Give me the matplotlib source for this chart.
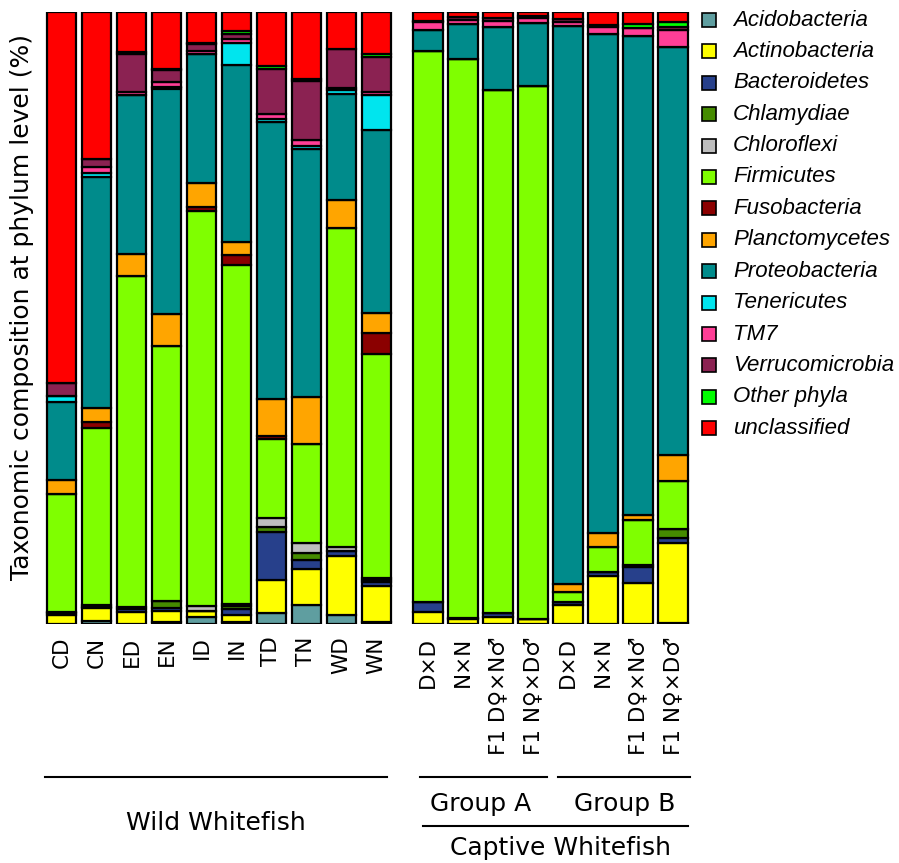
import matplotlib
matplotlib.use('Agg')
import matplotlib.pyplot as plt
import numpy as np
from matplotlib.patches import Rectangle
from matplotlib.lines import Line2D

# Samples: 10 wild populations, then 8 captive crosses (group A, group B)
wild_samples = ['CD', 'CN', 'ED', 'EN', 'ID', 'IN', 'TD', 'TN', 'WD', 'WN']
captive_samples = ['D×D', 'N×N', 'F1 D♀×N♂', 'F1 N♀×D♂',
                   'D×D', 'N×N', 'F1 D♀×N♂', 'F1 N♀×D♂']

phyla = ['Acidobacteria', 'Actinobacteria', 'Bacteroidetes', 'Chlamydiae',
         'Chloroflexi', 'Firmicutes', 'Fusobacteria', 'Planctomycetes',
         'Proteobacteria', 'Tenericutes', 'TM7', 'Verrucomicrobia',
         'Other phyla', 'unclassified']

colors = ['#5F9EA0', '#FFFF00', '#27408B', '#458B00', '#BEBEBE', '#7FFF00',
          '#8B0000', '#FFA500', '#008B8B', '#00E5EE', '#FF3E96', '#8B2252',
          '#00FF00', '#FF0000']

# relative abundance (%) per phylum, wild samples then captive samples
acidobacteria   = [0.0, 0.5, 0.0, 0.3, 1.1, 0.3, 1.8, 3.1, 1.5, 0.3,
                   0.0, 0.0, 0.0, 0.0, 0.0, 0.0, 0.0, 0.2]
actinobacteria  = [1.5, 2.1, 2.0, 1.8, 1.1, 1.1, 5.4, 5.9, 9.6, 5.9,
                   2.0, 0.8, 1.1, 0.8, 3.1, 7.8, 6.7, 13.1]
bacteroidetes   = [0.3, 0.2, 0.4, 0.5, 0.0, 1.1, 7.8, 1.5, 0.8, 0.7,
                   1.6, 0.2, 0.7, 0.0, 0.5, 0.7, 2.6, 0.8]
chlamydiae      = [0.2, 0.0, 0.3, 1.1, 0.0, 0.5, 0.8, 1.1, 0.0, 0.3,
                   0.0, 0.0, 0.0, 0.0, 0.0, 0.0, 0.3, 1.5]
chloroflexi     = [0.0, 0.3, 0.0, 0.0, 0.8, 0.3, 1.6, 1.6, 0.7, 0.3,
                   0.0, 0.0, 0.0, 0.0, 0.0, 0.0, 0.0, 0.0]
firmicutes      = [19.3, 28.9, 54.2, 41.8, 64.5, 55.4, 12.9, 16.2, 52.1, 36.6,
                   90.0, 91.3, 85.4, 87.1, 1.6, 4.1, 7.4, 7.8]
fusobacteria    = [0.0, 1.0, 0.0, 0.0, 0.7, 1.6, 0.5, 0.0, 0.0, 3.4,
                   0.0, 0.0, 0.0, 0.0, 0.0, 0.0, 0.0, 0.0]
planctomycetes  = [2.3, 2.3, 3.6, 5.1, 3.9, 2.1, 5.9, 7.7, 4.6, 3.3,
                   0.0, 0.0, 0.0, 0.0, 1.3, 2.3, 0.8, 4.2]
proteobacteria  = [12.6, 37.7, 26.0, 36.9, 21.1, 28.9, 45.3, 40.5, 17.3, 29.9,
                   3.4, 5.7, 10.3, 10.3, 91.2, 81.5, 78.3, 66.7]
tenericutes     = [1.0, 0.7, 0.0, 0.3, 0.0, 3.6, 0.5, 0.5, 0.7, 5.7,
                   0.0, 0.0, 0.0, 0.0, 0.0, 0.0, 0.0, 0.0]
tm7             = [0.0, 1.0, 0.5, 0.7, 0.5, 0.7, 0.8, 1.0, 0.3, 0.5,
                   1.3, 0.7, 1.0, 0.8, 0.7, 1.1, 1.3, 2.8]
verrucomicrobia = [2.1, 1.3, 6.2, 2.0, 1.0, 0.8, 7.4, 9.6, 6.4, 5.7,
                   0.3, 0.5, 0.5, 0.3, 0.5, 0.3, 0.0, 0.5]
other_phyla     = [0.0, 0.0, 0.3, 0.2, 0.3, 0.5, 0.5, 0.3, 0.0, 0.5,
                   0.0, 0.0, 0.0, 0.0, 0.0, 0.0, 0.6, 0.8]
unclassified    = [60.7, 24.0, 6.5, 9.3, 5.0, 3.1, 8.8, 11.0, 6.0, 6.9,
                   1.4, 0.8, 1.0, 0.7, 1.1, 2.2, 2.0, 1.6]

abund = np.array([acidobacteria, actinobacteria, bacteroidetes, chlamydiae,
                  chloroflexi, firmicutes, fusobacteria, planctomycetes,
                  proteobacteria, tenericutes, tm7, verrucomicrobia,
                  other_phyla, unclassified])

W, H = 899, 863
fig = plt.figure(figsize=(W / 100, H / 100), dpi=100)

def fx(px):
    return px / W

def fy(py):
    return 1 - py / H

ax_wild = fig.add_axes([fx(44.5), fy(624), fx(349), 612 / H])
ax_capt = fig.add_axes([fx(410.5), fy(624), fx(280), 612 / H])


def stacked(ax, data, labels):
    x = np.arange(data.shape[1])
    bottom = np.zeros(data.shape[1])
    for vals, col in zip(data, colors):
        ax.bar(x, vals, width=0.83, bottom=bottom, color=col,
               edgecolor='black', linewidth=1.6)
        bottom += vals
    ax.set_xlim(-0.5, len(x) - 0.5)
    ax.set_ylim(0, 100)
    ax.set_xticks(x)
    ax.set_xticklabels(labels, rotation=90, fontsize=15.5,
                       family='DejaVu Sans')
    ax.tick_params(axis='x', length=0, pad=9)
    ax.set_yticks([])
    for s in ax.spines.values():
        s.set_visible(False)


stacked(ax_wild, abund[:, :10], wild_samples)
stacked(ax_capt, abund[:, 10:], captive_samples)

fig.text(fx(22), fy(307), 'Taxonomic composition at phylum level (%)',
         rotation=90, ha='center', va='center', fontsize=18,
         family='DejaVu Sans')

# group brackets under the tick labels
def hline(x0, x1, y):
    fig.add_artist(Line2D([fx(x0), fx(x1)], [fy(y), fy(y)],
                          color='black', linewidth=1.5))

hline(45, 387, 777)
hline(420, 547, 777)
hline(558, 690, 777)
hline(423, 688, 826)

gfont = dict(fontsize=18, family='DejaVu Sans', ha='center', va='center')
fig.text(fx(216), fy(823), 'Wild Whitefish', **gfont)
fig.text(fx(481), fy(804), 'Group A', **gfont)
fig.text(fx(625), fy(804), 'Group B', **gfont)
fig.text(fx(560), fy(848), 'Captive Whitefish', **gfont)

# legend
for i, (name, col) in enumerate(zip(phyla, colors)):
    yc = 20 + i * 31.4
    fig.add_artist(Rectangle((fx(702), fy(yc + 7)), fx(14), 14 / H,
                             facecolor=col, edgecolor='black', linewidth=1.2))
    fig.text(fx(733), fy(yc), name, fontsize=16, style='italic',
             family='Liberation Sans', ha='left', va='center')

fig.savefig('out.png', dpi=100)
